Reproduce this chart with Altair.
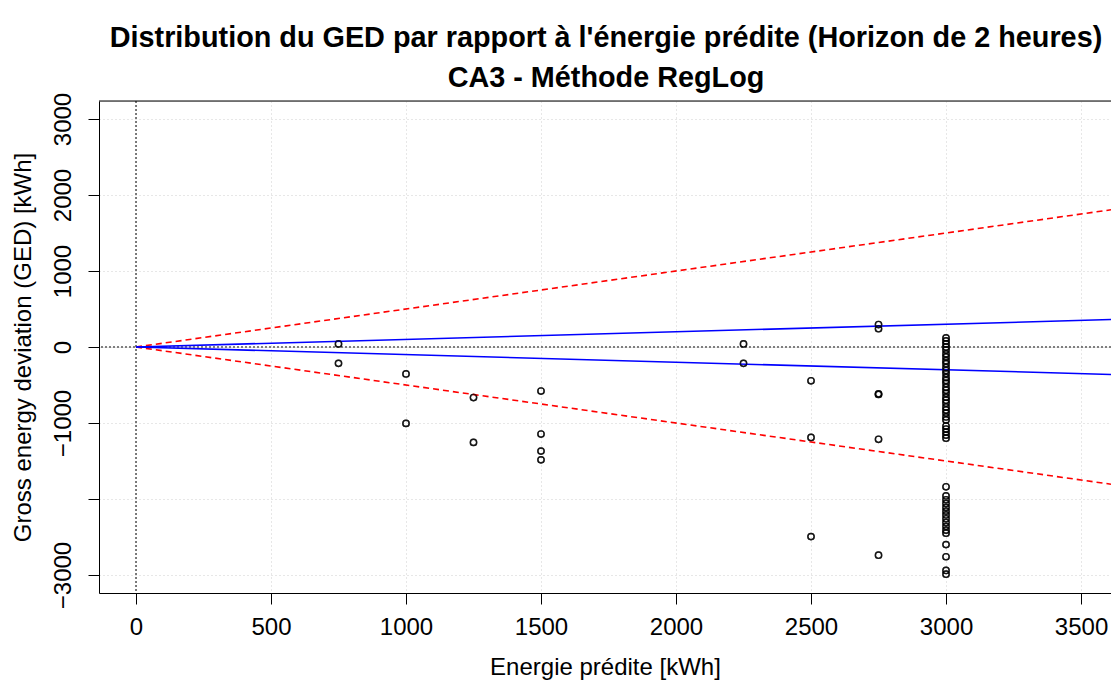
import altair as alt
import pandas as pd

# ---------------- data ----------------
title_lines = [
    "Distribution du GED par rapport à l'énergie prédite (Horizon de 2 heures)",
    "CA3 - Méthode RegLog",
]
x_title = "Energie prédite [kWh]"
y_title = "Gross energy deviation (GED) [kWh]"

x_ticks = [0, 500, 1000, 1500, 2000, 2500, 3000, 3500]
y_ticks = [-3000, -2000, -1000, 0, 1000, 2000, 3000]
x_domain = [-137, 3611]
y_domain = [-3237, 3237]

pred_levels = [750, 1000, 1250, 1500, 2250, 2500, 2750, 3000]
ged_750 = [40, -215]
ged_1000 = [-355, -1005]
ged_1250 = [-665, -1255]
ged_1500 = [-580, -1145, -1370, -1485]
ged_2250 = [40, -215]
ged_2500 = [-445, -1190, -2495]
ged_2750 = [295, 240, -615, -625, -1215, -2740]
ged_3000 = [120, 80, 40, 0, -40, -90, -130, -180, -220, -270, -310, -350,
            -400, -440, -480, -530, -570, -610, -660, -700, -740, -790,
            -830, -870, -920, -960, -1040, -1080, -1120, -1160, -1200,
            -1840, -1960, -2010, -2060, -2110, -2160, -2210, -2260, -2310,
            -2360, -2410, -2450, -2600, -2760, -2940, -2990]
ged_groups = [ged_750, ged_1000, ged_1250, ged_1500, ged_2250, ged_2500,
              ged_2750, ged_3000]

red_slopes = [0.5, -0.5]     # dashed red reference lines (+/- 50 %)
blue_slopes = [0.1, -0.1]    # solid blue reference lines (+/- 10 %)

# ---------------- tables ----------------
pts = pd.DataFrame(
    [(lvl, g) for lvl, grp in zip(pred_levels, ged_groups) for g in grp],
    columns=["x", "y"],
)

def ref_lines(slopes, name):
    rows = []
    for i, s in enumerate(slopes):
        for xv in (0, x_domain[1]):
            rows.append({"x": xv, "y": s * xv, "line": f"{name}{i}"})
    return pd.DataFrame(rows)

red_df = ref_lines(red_slopes, "r")
blue_df = ref_lines(blue_slopes, "b")
zero_h = pd.DataFrame({"y": [0]})
zero_v = pd.DataFrame({"x": [0]})

# ---------------- encodings ----------------
FONT = "Liberation Sans"
W, H = 1012, 492
FS = 24

xs = alt.Scale(domain=x_domain, nice=False, zero=False)
ys = alt.Scale(domain=y_domain, nice=False, zero=False)

x_axis = alt.Axis(
    values=x_ticks, format="d", title=x_title, grid=True,
    gridColor="#cfcfcf", gridDash=[1, 3], gridWidth=1,
    tickSize=11, tickColor="black", domainColor="black", tickWidth=1,
    labelFontSize=FS, labelFont=FONT, labelColor="black", labelPadding=11,
    titleFontSize=FS, titleFont=FONT, titleFontWeight="normal",
    titleColor="black", titlePadding=16,
)
y_axis = alt.Axis(
    values=y_ticks, format="d", title=y_title, grid=True,
    gridColor="#cfcfcf", gridDash=[1, 3], gridWidth=1,
    labelExpr="datum.value == -2000 ? '' : datum.label",
    labelAngle=270, labelAlign="center", labelBaseline="bottom",
    tickSize=11, tickColor="black", domainColor="black", tickWidth=1,
    labelFontSize=FS, labelFont=FONT, labelColor="black", labelPadding=13,
    titleFontSize=FS, titleFont=FONT, titleFontWeight="normal",
    titleColor="black", titlePadding=16,
)

points = alt.Chart(pts).mark_point(
    shape="circle", filled=False, color="black", size=40, strokeWidth=1.4
).encode(
    x=alt.X("x:Q", scale=xs, axis=x_axis),
    y=alt.Y("y:Q", scale=ys, axis=y_axis),
)

hline = alt.Chart(zero_h).mark_rule(
    color="black", strokeDash=[2, 2], strokeWidth=1
).encode(y=alt.Y("y:Q", scale=ys))
vline = alt.Chart(zero_v).mark_rule(
    color="black", strokeDash=[2, 2], strokeWidth=1
).encode(x=alt.X("x:Q", scale=xs))

red = alt.Chart(red_df).mark_line(
    color="#ff0000", strokeDash=[6, 4], strokeWidth=1.6, clip=True
).encode(
    x=alt.X("x:Q", scale=xs), y=alt.Y("y:Q", scale=ys), detail="line:N"
)
blue = alt.Chart(blue_df).mark_line(
    color="#0000ff", strokeWidth=1.6, clip=True
).encode(
    x=alt.X("x:Q", scale=xs), y=alt.Y("y:Q", scale=ys), detail="line:N"
)

top_edge = alt.Chart(zero_h).mark_rule(color="black", strokeWidth=1).encode(
    x=alt.value(0), x2=alt.value(W), y=alt.value(0)
)

chart = alt.layer(points, vline, hline, red, blue, points, top_edge).properties(
    width=W,
    height=H,
    padding={"left": 91, "top": 93, "right": 0, "bottom": 96},
    autosize=alt.AutoSizeParams(type="none"),
    title=alt.TitleParams(
        text=title_lines, font=FONT, fontSize=28.8, fontWeight="bold",
        color="black", anchor="middle", lineHeight=40, offset=0, dx=1,
    ),
).configure_view(stroke=None).configure(background="white")

chart.save("out.html", embed_options={"renderer": "svg", "actions": False})
